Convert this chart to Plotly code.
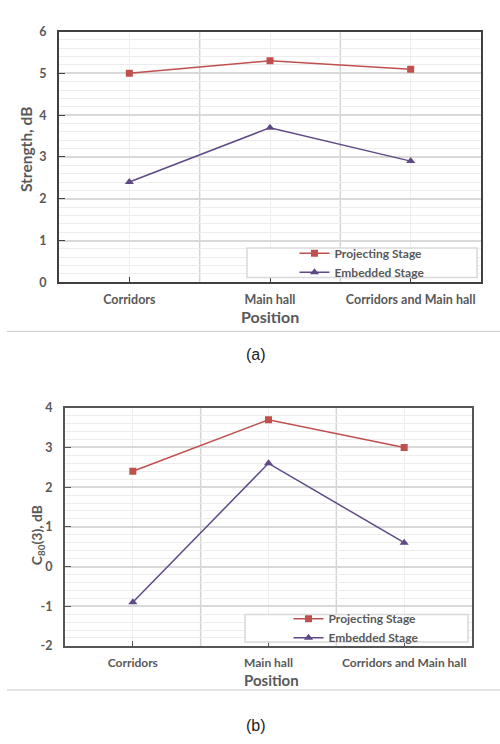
import plotly.graph_objects as go

categories = ["Corridors", "Main hall", "Corridors and Main hall"]
series_names = ["Projecting Stage", "Embedded Stage"]
strength_projecting = [5.0, 5.3, 5.1]
strength_embedded = [2.4, 3.7, 2.9]
c80_projecting = [2.4, 3.7, 3.0]
c80_embedded = [-0.9, 2.6, 0.6]
strength_ticks = [0, 1, 2, 3, 4, 5, 6]
c80_ticks = [-2, -1, 0, 1, 2, 3, 4]

RED = "#C0504D"
PURPLE = "#5E4A86"
TXT = "#595959"
FONT = "Lato"
W, H = 500, 744

xpos = list(range(len(categories)))

fig = go.Figure()

def add_pair(proj, emb, xa, ya, legend):
    fig.add_trace(go.Scatter(x=xpos, y=proj, mode="lines+markers", name=series_names[0],
                             line=dict(color=RED, width=1.5),
                             marker=dict(symbol="square", size=7, color=RED),
                             xaxis=xa, yaxis=ya, legend=legend))
    fig.add_trace(go.Scatter(x=xpos, y=emb, mode="lines+markers", name=series_names[1],
                             line=dict(color=PURPLE, width=1.5),
                             marker=dict(symbol="triangle-up", size=8, color=PURPLE),
                             xaxis=xa, yaxis=ya, legend=legend))

add_pair(strength_projecting, strength_embedded, "x", "y", "legend")
add_pair(c80_projecting, c80_embedded, "x2", "y2", "legend2")

def px2x(p):
    return p / W

def px2y(p):
    return 1 - p / H

def xcommon(lc, fs):
    return dict(range=[-0.5, len(categories) - 0.5], tickvals=xpos, ticktext=categories,
                ticks="inside", ticklen=5, tickcolor=lc, showline=True, linecolor=lc,
                linewidth=2, mirror=True, showgrid=True, gridcolor="#efefef", gridwidth=1,
                zeroline=False, tickfont=dict(family=FONT, size=fs, color=TXT, weight="bold"),
                ticklabelstandoff=5, fixedrange=True)

def ycommon(lc, ticks):
    return dict(ticks="inside", ticklen=6, tickcolor=lc, showline=True, linecolor=lc,
                linewidth=2, mirror=True, showgrid=True, gridcolor="#d9d9d9", gridwidth=1.5,
                zeroline=False, tickvals=ticks, ticktext=[str(t) for t in ticks],
                range=[ticks[0], ticks[-1]],
                minor=dict(dtick=0.2, showgrid=True, gridcolor="#ececec", gridwidth=1, ticks=""),
                tickfont=dict(family=FONT, size=12.5, color=TXT, weight="bold"),
                ticklabelstandoff=8, fixedrange=True)

legfont = dict(family=FONT, size=12, color=TXT, weight="bold")
fig.update_layout(
    width=W, height=H, margin=dict(l=0, r=0, t=0, b=0),
    paper_bgcolor="white", plot_bgcolor="white",
    xaxis=dict(domain=[px2x(59), px2x(481)], anchor="y", **xcommon("#404040", 12.5)),
    yaxis=dict(domain=[px2y(280), px2y(24)], anchor="x", **ycommon("#404040", strength_ticks)),
    xaxis2=dict(domain=[px2x(65), px2x(472)], anchor="y2", **xcommon("#555555", 12)),
    yaxis2=dict(domain=[px2y(651), px2y(408)], anchor="x2", **ycommon("#555555", c80_ticks)),
    legend=dict(x=px2x(362), y=px2y(260), xanchor="center", yanchor="middle",
                bgcolor="rgba(0,0,0,0)", font=legfont, tracegroupgap=0, itemwidth=30),
    legend2=dict(x=px2x(356), y=px2y(633), xanchor="center", yanchor="middle",
                 bgcolor="rgba(0,0,0,0)", font=legfont, tracegroupgap=0, itemwidth=30),
    showlegend=True,
)

shapes = []
for xa, ya in (("x", "y domain"), ("x2", "y2 domain")):
    for i in range(len(categories) - 1):
        shapes.append(dict(type="line", xref=xa, yref=ya, x0=i + 0.5, x1=i + 0.5, y0=0, y1=1,
                           line=dict(color="#d4d4d4", width=1.5), layer="below"))
shapes.append(dict(type="rect", xref="paper", yref="paper", x0=px2x(247), x1=px2x(477),
                   y0=px2y(275), y1=px2y(245), fillcolor="white", line=dict(color="#d9d9d9", width=1.5),
                   layer="above"))
shapes.append(dict(type="rect", xref="paper", yref="paper", x0=px2x(245), x1=px2x(468),
                   y0=px2y(647), y1=px2y(619), fillcolor="white", line=dict(color="#d9d9d9", width=1.5),
                   layer="above"))
shapes.append(dict(type="line", xref="paper", yref="paper", x0=px2x(7), x1=1, y0=px2y(330), y1=px2y(330),
                   line=dict(color="#c8c8c8", width=1)))
shapes.append(dict(type="line", xref="paper", yref="paper", x0=px2x(7), x1=1, y0=px2y(696), y1=px2y(696),
                   line=dict(color="#c8c8c8", width=1)))
fig.update_layout(shapes=shapes)

ann = [
    dict(text="Strength, dB", x=px2x(26), y=px2y(145), textangle=-90,
         font=dict(family=FONT, size=15.5, color=TXT, weight="bold")),
    dict(text="Position", x=px2x(270), y=px2y(315),
         font=dict(family=FONT, size=16, color=TXT, weight="bold")),
    dict(text="(a)", x=px2x(256), y=px2y(354), font=dict(family="Liberation Sans", size=16, color="#222222")),
    dict(text="C<sub>80</sub>(3), dB", x=px2x(37), y=px2y(538), textangle=-90,
         font=dict(family=FONT, size=14, color=TXT, weight="bold")),
    dict(text="Position", x=px2x(271), y=px2y(686),
         font=dict(family=FONT, size=15, color=TXT, weight="bold")),
    dict(text="(b)", x=px2x(256), y=px2y(732), font=dict(family="Liberation Sans", size=16, color="#222222")),
]
for a in ann:
    a.update(xref="paper", yref="paper", showarrow=False, xanchor="center", yanchor="middle")
fig.update_layout(annotations=ann)

fig.write_html("out.html")
